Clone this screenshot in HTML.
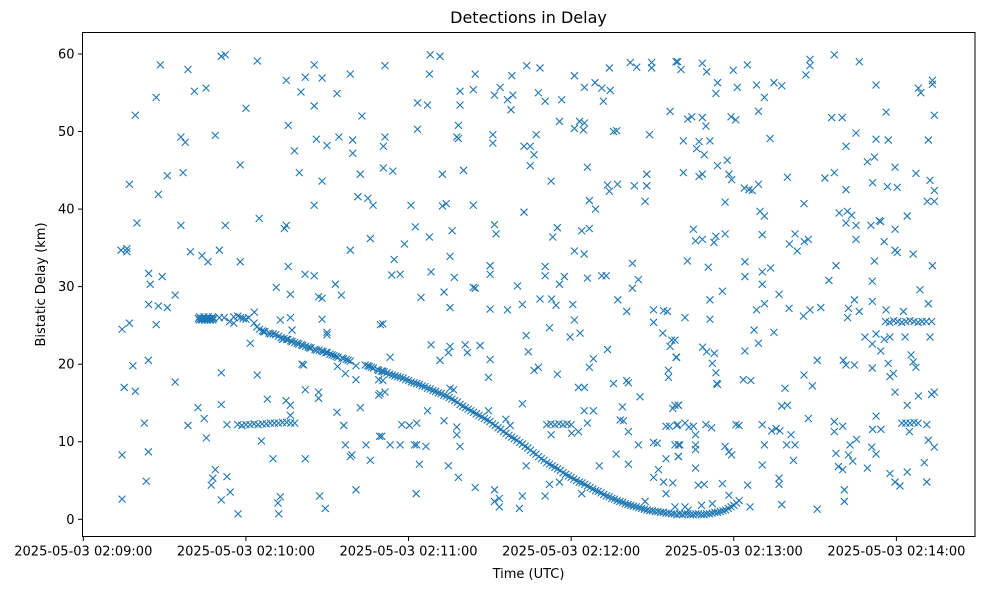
<!DOCTYPE html>
<html><head><meta charset="utf-8"><style>
body{margin:0;background:#fff;}
svg text{font-family:"DejaVu Sans","Liberation Sans",sans-serif;fill:#000;}
</style></head><body>
<svg id="chart" width="985" height="590" viewBox="0 0 985 590" xmlns="http://www.w3.org/2000/svg">
<rect width="985" height="590" fill="#fff"/>
<text x="528.5" y="23" font-size="16" text-anchor="middle">Detections in Delay</text>
<g id="marks"></g>
<rect x="82.5" y="32.5" width="892.5" height="504" fill="none" stroke="#000" stroke-width="1"/>
<g id="xaxis"></g>
<g id="yaxis"></g>
<text x="528.5" y="578" font-size="13" text-anchor="middle">Time (UTC)</text>
<text x="0" y="0" font-size="13" text-anchor="middle" transform="translate(45,284.5) rotate(-90)">Bistatic Delay (km)</text>
</svg>
<script>
// seconds after 2025-05-03 02:09:00
const xTickSeconds = [0, 60, 120, 180, 240, 300];
const xTickLabels = ["2025-05-03 02:09:00","2025-05-03 02:10:00","2025-05-03 02:11:00","2025-05-03 02:12:00","2025-05-03 02:13:00","2025-05-03 02:14:00"];
const yTicks = [0, 10, 20, 30, 40, 50, 60];

const trackTimes = [42.5,43.3,44.1,44.9,45.7,46.5,47.3,48.0,52,55.5,57,58,59,60,61,63,65,66,67,68.5,70,72,73,74,75,76.5,78,79.5,80.5,82,83,84,85.5,87,88,89.5,91,92.5,94,95.5,97,98.5,104,105.5,107,108.5,110,112,114,116,118,120,122,124,126,128,130,132,134,136,138,140,142,144,146,148,150,152,154,156,158,160,162,164,166,168,170,172,174,176,178,180,182,184,186,188,190,192,194,196,198,200,202,204,206,208,210,212,214,216,218,220,222,224,226,228,230,232,234,236,238,240,242];
const trackDelays = [25.9,25.9,25.9,25.9,25.9,25.9,25.9,25.9,26.0,26.1,26.2,26.0,25.9,25.8,26.0,25.3,24.5,24.3,24.2,24.0,23.9,23.6,23.4,23.3,23.2,23.0,22.8,22.6,22.5,22.3,22.2,22.1,21.9,21.8,21.7,21.5,21.3,21.1,20.9,20.8,20.6,20.4,19.9,19.7,19.5,19.3,19.1,18.9,18.6,18.4,18.2,17.9,17.6,17.4,17.1,16.8,16.5,16.2,15.9,15.5,15.1,14.6,14.2,13.8,13.4,13.0,12.6,12.1,11.6,11.1,10.6,10.2,9.7,9.2,8.6,8.1,7.6,7.1,6.7,6.3,5.8,5.4,5.0,4.7,4.3,3.9,3.6,3.2,2.9,2.6,2.3,2.0,1.8,1.6,1.4,1.2,1.1,1.0,0.9,0.8,0.7,0.7,0.7,0.6,0.7,0.6,0.7,0.8,0.9,1.1,1.4,1.8,2.4];

const trackTimes2 = [42.9,43.7,44.5,45.3,46.1,46.9,47.7,64,66.5,69,71,73.5,75.5,77,79,81,83.5,86,88.5,90,91.8,93.3,96,97.7,105,106.3,109,111,113,115,117,119,121,123,125,127,129,131,133,135,137,139,141,143,145,147,149,151,153,155,157,159,161,163,165,167,169,171,173,175,177,179,181,183,185,187,189,191,193,195,197,199,201,203,205,207,209,211,213,215,217,219,221,223,225,227,229,231,233,235,237,239,241];
const trackDelays2 = [26.1,25.8,26.1,25.8,26.1,25.8,26.1,24.8,24.2,23.9,23.8,23.2,23.2,22.9,22.7,22.4,22.1,21.8,21.6,21.5,21.2,21.0,20.7,20.5,19.8,19.6,19.2,19.0,18.7,18.5,18.3,18.0,17.7,17.5,17.2,16.9,16.6,16.3,16.0,15.7,15.3,14.8,14.4,14.0,13.6,13.2,12.8,12.3,11.8,11.3,10.8,10.4,9.9,9.4,8.9,8.4,7.8,7.3,6.9,6.5,6.0,5.6,5.2,4.8,4.5,4.1,3.7,3.4,3.0,2.7,2.4,2.2,1.9,1.7,1.5,1.3,1.1,1.0,0.9,0.8,0.7,0.6,0.6,0.7,0.6,0.7,0.6,0.7,0.9,1.0,1.2,1.6,2.1];

const clusterTimes = [42.8,43.8,44.8,45.8,46.8,47.8,57,58.5,60,61.5,63,64.5,66,67.5,69,70.5,72,73.5,75,76.5,78,171,172.5,174,175.5,177,178.5,180,302,303.5,305,306.5,308,296,297.5,299,300.5,302,303.5,305,306.5,308,309.5,311,313];
const clusterDelays = [25.7,25.7,25.7,25.7,25.7,25.7,12.2,12.1,12.2,12.2,12.3,12.2,12.3,12.3,12.4,12.4,12.4,12.5,12.5,12.4,12.4,12.2,12.3,12.2,12.3,12.2,12.3,12.2,12.4,12.4,12.4,12.5,12.4,25.5,25.4,25.6,25.5,25.4,25.5,25.6,25.5,25.4,25.5,25.5,25.5];

const clutterTimes = [28.4,38.6,50.9,52.4,64.2,85.2,74.9,81.9,88.1,98.5,26.9,41.0,45.3,80.3,93.6,19.2,60.0,85.2,102.8,75.6,36.0,37.6,48.7,86.0,89.9,94.3,99.4,99.4,77.9,57.9,17.0,31.0,36.8,27.7,79.7,88.1,102.2,85.2,101.3,105.0,106.9,19.8,36.0,52.4,64.9,74.2,74.9,105.9,13.9,16.1,16.1,39.5,43.8,46.0,50.2,57.9,98.5,75.6,24.1,24.7,29.1,81.8,85.2,93.0,71.2,76.4,33.9,86.8,88.1,95.2,24.1,27.7,31.0,17.0,14.3,26.9,50.2,54.0,55.5,63.1,72.7,76.4,77.0,88.1,89.9,89.9,61.6,109.6,18.3,24.0,15.1,19.2,33.9,50.9,64.2,80.7,81.3,93.8,96.7,100.6,100.6,109.0,109.0,81.9,86.8,86.8,42.3,44.6,50.9,67.9,74.8,76.4,76.4,22.5,38.6,53.0,45.4,65.7,93.6,96.1,102.2,109.3,96.7,98.5,99.1,104.3,105.9,14.3,24.0,70.0,81.9,23.2,48.7,47.8,47.2,53.0,54.2,50.9,14.3,57.1,72.7,71.8,72.1,87.2,89.3,100.6,
111.3,128.0,131.6,127.7,144.6,139.0,143.9,123.3,127.0,139.0,151.7,153.8,156.5,158.5,157.8,158.1,163.6,168.5,167.9,170.4,176.5,181.2,184.9,188.8,191.3,194.4,191.9,194.1,201.8,204.2,209.7,209.7,218.7,216.5,111.3,110.7,123.3,138.4,137.8,138.4,151.1,151.1,162.6,164.9,166.3,167.1,164.9,175.7,181.2,183.1,184.9,184.5,195.6,196.8,208.9,110.7,114.2,132.5,140.3,172.6,186.0,193.4,194.1,197.1,203.3,207.9,207.9,207.3,120.9,132.5,133.9,143.9,162.6,186.7,189.0,122.5,127.7,136.1,151.7,152.3,173.2,174.9,183.9,186.7,118.5,114.7,135.3,181.2,184.8,113.8,116.9,128.3,136.9,150.1,150.1,170.4,170.4,177.5,175.7,186.0,191.3,192.9,202.6,204.8,202.6,133.1,124.6,135.3,143.9,144.6,160.2,150.1,156.5,162.0,168.5,172.8,174.4,180.6,181.2,172.0,179.6,183.3,197.2,200.5,210.4,214.1,215.5,210.4,213.8,217.1,216.5,218.7,110.5,163.4,164.2,128.3,131.6,135.3,134.7,140.9,141.7,146.4,113.2,150.1,149.5,166.3,167.9,174.9,186.7,188.2,193.4,215.9,215.9,110.5,110.5,111.3,109.5,182.7,184.9,195.6,200.5,201.1,205.4,135.3,136.6,127.0,117.5,120.3,123.0,133.1,137.8,137.8,139.0,149.5,155.9,157.5,162.0,184.8,188.2,186.0,180.2,182.7,172.6,198.9,198.1,199.3,201.1,217.5,219.6,215.0,216.3,219.0,110.1,113.2,116.9,122.2,123.0,126.4,124.0,134.7,138.4,122.8,144.6,151.7,151.7,153.5,153.5,162.0,160.9,170.4,172.0,175.7,163.4,190.4,196.6,201.1,204.8,210.4,211.8,215.0,212.2,210.4,214.1,217.5,215.0,219.6,219.6,183.9,207.3,218.3,222.0,223.2,
219.3,220.5,228.4,230.0,234.0,233.4,239.8,241.3,245.0,248.4,251.3,254.8,257.7,266.6,268.1,268.1,277.1,286.3,292.5,308.1,309.0,313.3,313.3,223.0,224.5,228.4,229.7,239.0,240.7,249.1,276.1,280.0,296.2,314.0,221.4,226.3,227.2,231.2,229.1,253.4,285.1,281.4,292.5,297.0,311.8,234.0,237.6,221.4,227.2,228.4,238.2,239.2,243.9,245.6,246.8,249.1,259.8,273.6,277.1,281.4,289.3,291.9,299.5,291.2,296.7,300.3,307.2,312.4,314.0,236.8,265.9,311.4,314.0,249.7,251.3,278.9,281.9,283.5,281.4,285.1,290.6,293.7,294.2,299.5,304.0,225.1,225.9,228.4,232.7,233.4,236.8,250.5,260.5,262.6,263.4,266.0,267.5,285.1,295.5,299.5,300.3,306.2,222.9,230.6,244.1,244.1,250.5,250.5,253.6,277.7,275.1,291.9,291.1,313.3,308.7,235.8,231.2,222.0,231.2,256.7,248.4,251.3,260.4,265.7,268.1,272.1,282.3,284.5,286.3,282.0,291.1,296.2,302.6,311.8,218.3,218.9,228.5,230.0,232.8,232.1,233.4,233.7,234.0,244.1,249.1,247.5,254.8,243.5,246.3,270.8,265.9,269.0,280.4,281.4,284.5,288.4,291.1,292.5,294.2,295.5,297.6,303.2,312.4,291.1,297.0,297.6,298.9,299.5,305.4,306.2,307.2,304.0,308.1,313.0,314.0,218.3,219.5,257.7,259.8,258.9,267.5,219.3,222.0,223.5,225.1,225.9,229.7,231.8,240.8,241.9,250.5,254.0,255.6,257.0,261.1,277.1,277.1,280.2,292.5,291.2,294.3,311.2,304.8,311.8,314.0,218.3,220.1,225.9,225.9,219.5,236.8,238.2,239.2,251.3,259.5,262.6,262.0,282.9,285.3,282.3,283.9,277.7,290.9,292.5,225.9,250.5,278.6,280.2,289.3,310.3,304.0,297.6,299.5,301.3,311.2,256.7,256.7,226.9,229.1,235.8,245.1,280.8,280.8,238.2,246.0,257.7,270.8,228.1,232.1];

const clutterDelays = [58.6,58.0,59.7,59.9,59.1,58.6,56.6,57.0,56.9,57.4,54.4,55.2,55.6,55.1,54.9,52.1,53.0,53.3,52.0,50.8,49.3,48.6,49.5,49.0,48.2,49.3,48.9,47.2,47.5,45.7,43.2,44.3,44.7,41.9,44.7,43.6,44.5,40.5,41.6,41.4,40.5,38.2,37.9,37.9,38.8,37.5,37.9,36.2,34.7,34.9,34.5,34.5,34.0,33.2,34.7,33.2,34.7,32.6,31.7,30.3,31.3,31.6,31.4,30.3,29.9,29.0,28.9,28.7,28.5,28.9,27.7,27.5,27.3,25.3,24.5,25.1,26.0,25.5,25.3,26.7,25.7,26.0,24.4,25.8,24.1,23.8,22.7,25.1,19.8,20.5,17.0,16.5,17.7,18.9,18.6,20.0,19.9,19.7,18.8,19.8,18.0,18.0,16.0,16.7,16.4,15.6,14.4,13.0,14.8,15.5,15.3,14.7,13.4,12.4,12.1,12.2,10.5,10.1,13.8,12.1,14.4,10.7,9.6,8.1,8.3,9.6,7.6,8.3,8.7,7.8,7.8,4.9,6.4,5.3,4.4,5.5,3.5,2.5,2.6,0.7,2.9,2.1,0.7,3.0,1.4,3.8,
58.5,59.9,59.7,57.4,57.4,55.2,55.4,53.7,53.4,53.4,54.7,55.7,54.1,54.7,52.8,57.2,58.5,58.2,55.0,53.9,54.1,57.2,55.7,56.3,55.6,55.3,53.9,58.2,58.9,58.3,58.9,58.2,59.0,52.6,49.3,48.1,50.3,50.8,49.3,49.1,49.6,48.5,48.1,48.1,47.0,49.6,45.6,51.3,50.4,51.3,51.1,50.2,50.0,50.1,49.6,45.3,44.9,44.5,45.0,43.6,45.4,43.1,42.3,43.2,43.0,44.5,43.0,41.0,40.5,40.4,40.7,40.5,39.6,41.1,40.0,37.7,36.4,37.2,38.0,36.8,36.4,37.6,37.2,37.5,35.5,33.5,33.9,34.6,34.2,31.5,31.6,31.9,31.2,32.7,31.6,32.6,31.4,31.3,30.3,31.1,31.4,31.4,33.0,30.9,29.8,29.3,28.6,27.3,29.9,29.8,30.1,27.1,27.0,27.7,28.4,28.4,27.6,27.7,25.7,24.7,23.5,24.0,28.3,26.8,27.0,26.9,26.8,25.4,24.0,23.1,22.3,20.9,25.2,23.7,21.6,22.5,20.5,22.3,21.5,22.5,21.5,22.4,20.9,20.6,18.3,19.2,19.6,18.7,19.6,20.7,21.9,19.2,18.3,19.1,17.9,16.4,16.2,17.0,17.0,17.5,17.9,17.6,15.8,16.9,16.7,14.0,12.2,12.1,12.4,12.7,11.9,10.9,9.4,14.0,12.9,12.1,14.9,14.0,14.0,12.4,11.1,11.3,10.9,14.5,12.8,12.7,11.3,14.3,14.7,12.0,12.0,12.1,10.7,9.6,9.6,9.6,9.6,9.4,7.1,6.9,5.4,3.3,4.1,3.8,2.3,2.7,1.6,3.0,1.4,3.0,4.5,4.8,6.9,6.9,8.4,7.1,9.6,9.9,9.8,7.8,6.4,5.4,4.8,4.7,3.3,9.6,8.1,3.3,2.3,1.6,1.6,1.2,
59.0,58.0,58.8,57.7,56.3,54.9,57.9,55.7,58.6,56.0,54.4,56.3,55.9,57.3,59.3,58.5,59.9,59.0,56.0,55.6,55.0,56.6,56.1,51.6,51.9,51.8,50.7,51.9,51.5,52.6,51.8,51.8,52.5,52.1,48.8,47.8,48.7,48.8,47.0,49.1,49.8,48.1,49.0,48.9,48.9,45.6,46.3,44.7,44.2,44.5,44.5,43.8,42.7,42.5,42.4,43.2,44.1,44.0,44.7,42.5,46.1,46.7,45.4,43.4,42.9,42.8,44.6,43.7,42.4,40.9,40.7,41.0,41.0,39.7,39.1,39.5,39.7,39.2,38.2,37.9,37.9,38.5,38.4,37.4,39.1,37.4,35.9,36.1,35.7,36.5,36.8,36.7,35.5,36.8,34.6,35.8,36.1,36.1,35.8,34.7,34.4,34.2,33.3,32.5,33.2,31.3,31.9,30.3,32.4,32.7,30.8,33.3,30.7,32.7,29.6,29.4,28.3,26.0,25.8,29.0,27.0,27.8,27.2,26.2,27.0,27.3,27.2,28.3,26.8,26.0,28.1,27.0,26.8,27.8,23.1,20.9,22.2,21.6,21.4,20.1,18.9,17.5,17.4,21.7,22.7,24.4,24.1,18.0,17.9,20.5,18.6,17.2,20.5,19.9,19.9,23.5,22.6,23.9,21.7,23.2,23.5,23.5,23.5,19.5,20.1,18.4,18.8,16.4,21.2,20.3,19.6,14.7,15.9,16.1,16.4,14.7,14.7,14.6,14.7,16.9,13.0,12.2,12.4,11.9,12.0,10.9,12.2,11.8,12.2,12.1,12.2,11.4,11.7,11.4,10.9,12.6,11.3,12.0,13.3,11.6,11.6,12.2,11.3,10.2,9.3,9.6,9.6,9.6,9.0,8.1,9.4,8.7,8.3,9.6,9.6,9.6,7.6,9.6,10.3,8.3,7.5,8.5,9.3,8.4,6.6,7.0,6.8,6.4,6.6,7.3,6.1,5.9,4.8,4.3,4.8,5.3,4.5,4.4,4.5,4.6,4.4,3.8,2.3,3.1,1.6,1.9,1.3,1.8,2.0];

const NS = "http://www.w3.org/2000/svg";
const plotLeft = 82.5, plotRight = 975, plotTop = 32.5, plotBottom = 536.5;
const tMin = -0.3, tMax = 329.0, dMin = -2.22, dMax = 62.77;
function xScale(t){ return plotLeft + (t - tMin) / (tMax - tMin) * (plotRight - plotLeft); }
function yScale(d){ return plotBottom - (d - dMin) / (dMax - dMin) * (plotBottom - plotTop); }

const marks = document.getElementById('marks');
function drawX(t, d){
  const cx = xScale(t), cy = yScale(d), r = 3.5;
  const p = document.createElementNS(NS, 'path');
  p.setAttribute('d', `M${cx-r},${cy-r}L${cx+r},${cy+r}M${cx-r},${cy+r}L${cx+r},${cy-r}`);
  p.setAttribute('stroke', '#1f77b4');
  p.setAttribute('stroke-width', '1.1');
  p.setAttribute('fill', 'none');
  
  
  marks.appendChild(p);
}
for (let i = 0; i < clutterTimes.length && i < clutterDelays.length; i++) drawX(clutterTimes[i], clutterDelays[i]);
for (let i = 0; i < clusterTimes.length; i++) drawX(clusterTimes[i], clusterDelays[i]);
for (let i = 0; i < trackTimes.length; i++) drawX(trackTimes[i], trackDelays[i]);
for (let i = 0; i < trackTimes2.length; i++) drawX(trackTimes2[i], trackDelays2[i]);

const xaxis = document.getElementById('xaxis');
xTickSeconds.forEach((s, i) => {
  const x = xScale(s);
  const l = document.createElementNS(NS, 'line');
  l.setAttribute('x1', x); l.setAttribute('x2', x);
  l.setAttribute('y1', plotBottom); l.setAttribute('y2', plotBottom + 4.5);
  l.setAttribute('stroke', '#000');
  
  
  xaxis.appendChild(l);
  const t = document.createElementNS(NS, 'text');
  t.setAttribute('x', x); t.setAttribute('y', plotBottom + 19);
  t.setAttribute('font-size', '13');
  t.setAttribute('text-anchor', 'middle');
  t.textContent = xTickLabels[i];
  
  
  xaxis.appendChild(t);
});
const yaxis = document.getElementById('yaxis');
yTicks.forEach(v => {
  const y = yScale(v);
  const l = document.createElementNS(NS, 'line');
  l.setAttribute('x1', plotLeft - 4.5); l.setAttribute('x2', plotLeft);
  l.setAttribute('y1', y); l.setAttribute('y2', y);
  l.setAttribute('stroke', '#000');
  
  
  yaxis.appendChild(l);
  const t = document.createElementNS(NS, 'text');
  t.setAttribute('x', plotLeft - 8); t.setAttribute('y', y + 4.5);
  t.setAttribute('font-size', '13');
  t.setAttribute('text-anchor', 'end');
  t.textContent = v;
  
  
  yaxis.appendChild(t);
});
</script>
</body></html>
